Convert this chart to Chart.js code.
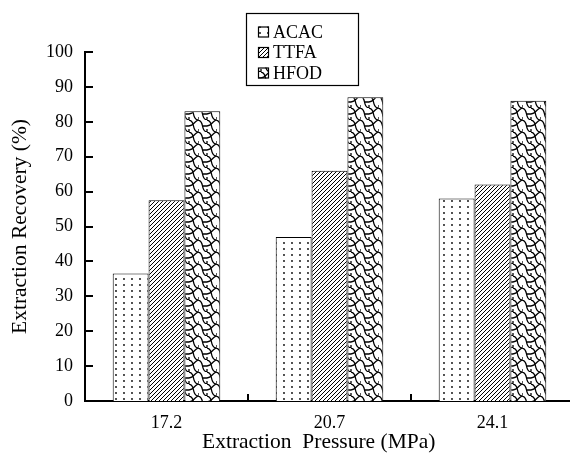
<!DOCTYPE html>
<html>
<head>
<meta charset="utf-8">
<script src="https://cdn.jsdelivr.net/npm/chart.js@4/dist/chart.umd.min.js"></script>
<style>
  html, body { margin: 0; padding: 0; background: #fff; overflow: hidden; }
  #wrap { width: 578px; height: 453px; }
</style>
</head>
<body>
<div id="wrap"><canvas id="chart" width="578" height="453"></canvas></div>
<script>
const categories = ['17.2', '20.7', '24.1'];
const acacValues = [36.5, 47, 58];
const ttfaValues = [57.5, 66, 62];
const hfodValues = [83, 87, 86];
const seriesNames = ['ACAC', 'TTFA', 'HFOD'];

const FONT = '"Liberation Serif", "Times New Roman", serif';

// fill patterns for the bars
function makeTile(w, h, draw) {
    const c = document.createElement('canvas');
    c.width = w;
    c.height = h;
    const g = c.getContext('2d');
    g.fillStyle = '#fff';
    g.fillRect(0, 0, w, h);
    g.strokeStyle = '#000';
    g.fillStyle = '#000';
    draw(g);
    return document.createElement('canvas').getContext('2d').createPattern(c, 'repeat');
}

const dotPattern = makeTile(8, 6, g => {
    g.beginPath();
    g.arc(4, 3, 0.9, 0, Math.PI * 2);
    g.fill();
});

const hatchPattern = makeTile(4, 4, g => {
    g.lineWidth = 1;
    g.beginPath();
    g.moveTo(-1, 5); g.lineTo(5, -1);
    g.moveTo(-1, 1); g.lineTo(1, -1);
    g.moveTo(3, 5); g.lineTo(5, 3);
    g.stroke();
});

const scalePattern = makeTile(18, 12, g => {
    g.lineWidth = 1.3;
    g.beginPath();
    g.moveTo(0, 0); g.bezierCurveTo(7, 1, 2, 11, 9, 12);
    g.moveTo(9, 0); g.bezierCurveTo(16, 1, 11, 11, 18, 12);
    g.moveTo(9, 12); g.lineTo(9, 9);
    g.moveTo(18, 0); g.bezierCurveTo(13, 3, 14, 5, 9, 6);
    g.moveTo(9, 6); g.lineTo(5, 6);
    g.moveTo(0, 12); g.lineTo(0, 9);
    g.stroke();
});

const patterns = [dotPattern, hatchPattern, scalePattern];

const axisTicks = {
    id: 'axisTicks',
    afterDraw(chart) {
        const ctx = chart.ctx;
        const x = chart.scales.x;
        const y = chart.scales.y;
        ctx.save();
        ctx.strokeStyle = '#000';
        ctx.lineWidth = 2;
        ctx.beginPath();
        y.ticks.forEach(t => {
            const py = Math.round(y.getPixelForValue(t.value));
            ctx.moveTo(x.left, py);
            ctx.lineTo(x.left + 8, py);
        });
        for (let i = 1; i < categories.length; i++) {
            const px = (x.getPixelForValue(i - 1) + x.getPixelForValue(i)) / 2;
            ctx.moveTo(px, y.bottom);
            ctx.lineTo(px, y.bottom - 7);
        }
        ctx.stroke();
        ctx.restore();
    }
};

const boxLegend = {
    id: 'boxLegend',
    afterDraw(chart) {
        const ctx = chart.ctx;
        ctx.save();
        ctx.strokeStyle = '#000';
        ctx.lineWidth = 1.2;
        ctx.fillStyle = '#fff';
        ctx.fillRect(246, 13, 113, 73);
        ctx.strokeRect(246.5, 13.5, 112, 72);
        ctx.font = '18px ' + FONT;
        ctx.textBaseline = 'middle';
        seriesNames.forEach((name, i) => {
            const cy = 32 + i * 20.5;
            ctx.fillStyle = patterns[i];
            ctx.fillRect(258, cy - 5.5, 11, 11);
            ctx.lineWidth = 1.2;
            ctx.strokeRect(258.5, cy - 5, 10, 10);
            ctx.fillStyle = '#000';
            ctx.fillText(name, 273, cy + 1);
        });
        ctx.restore();
    }
};

const datasets = [acacValues, ttfaValues, hfodValues].map((vals, i) => ({
    label: seriesNames[i],
    data: vals,
    backgroundColor: patterns[i],
    borderColor: '#000',
    borderWidth: 1,
    borderSkipped: 'bottom',
    categoryPercentage: 0.66,
    barPercentage: 1.0
}));

new Chart(document.getElementById('chart'), {
    type: 'bar',
    data: { labels: categories, datasets: datasets },
    options: {
        responsive: false,
        animation: false,
        layout: { padding: { top: 52, right: 4, left: 0, bottom: 0 } },
        plugins: { legend: { display: false }, tooltip: { enabled: false } },
        scales: {
            x: {
                grid: { display: false, drawTicks: false },
                border: { color: '#000', width: 2 },
                ticks: { color: '#000', padding: 11, font: { family: FONT, size: 18 } },
                title: {
                    display: true,
                    // trailing spaces nudge the centred title left, as in the original
                    text: 'Extraction  Pressure (MPa)    ',
                    color: '#000',
                    font: { family: FONT, size: 21.5, lineHeight: 1.0 },
                    padding: { top: 0, bottom: 0 }
                },
                afterFit: s => { s.height = 52; }
            },
            y: {
                min: 0,
                max: 100,
                grid: { display: false, drawTicks: false },
                border: { color: '#000', width: 2 },
                ticks: { stepSize: 10, color: '#000', padding: 12, font: { family: FONT, size: 18 } },
                title: {
                    display: true,
                    text: 'Extraction Recovery (%)',
                    color: '#000',
                    font: { family: FONT, size: 21.5, lineHeight: 1.0 },
                    padding: { top: 10, bottom: 0 }
                },
                afterFit: s => { s.width = 85; }
            }
        }
    },
    plugins: [axisTicks, boxLegend]
});
</script>
</body>
</html>
